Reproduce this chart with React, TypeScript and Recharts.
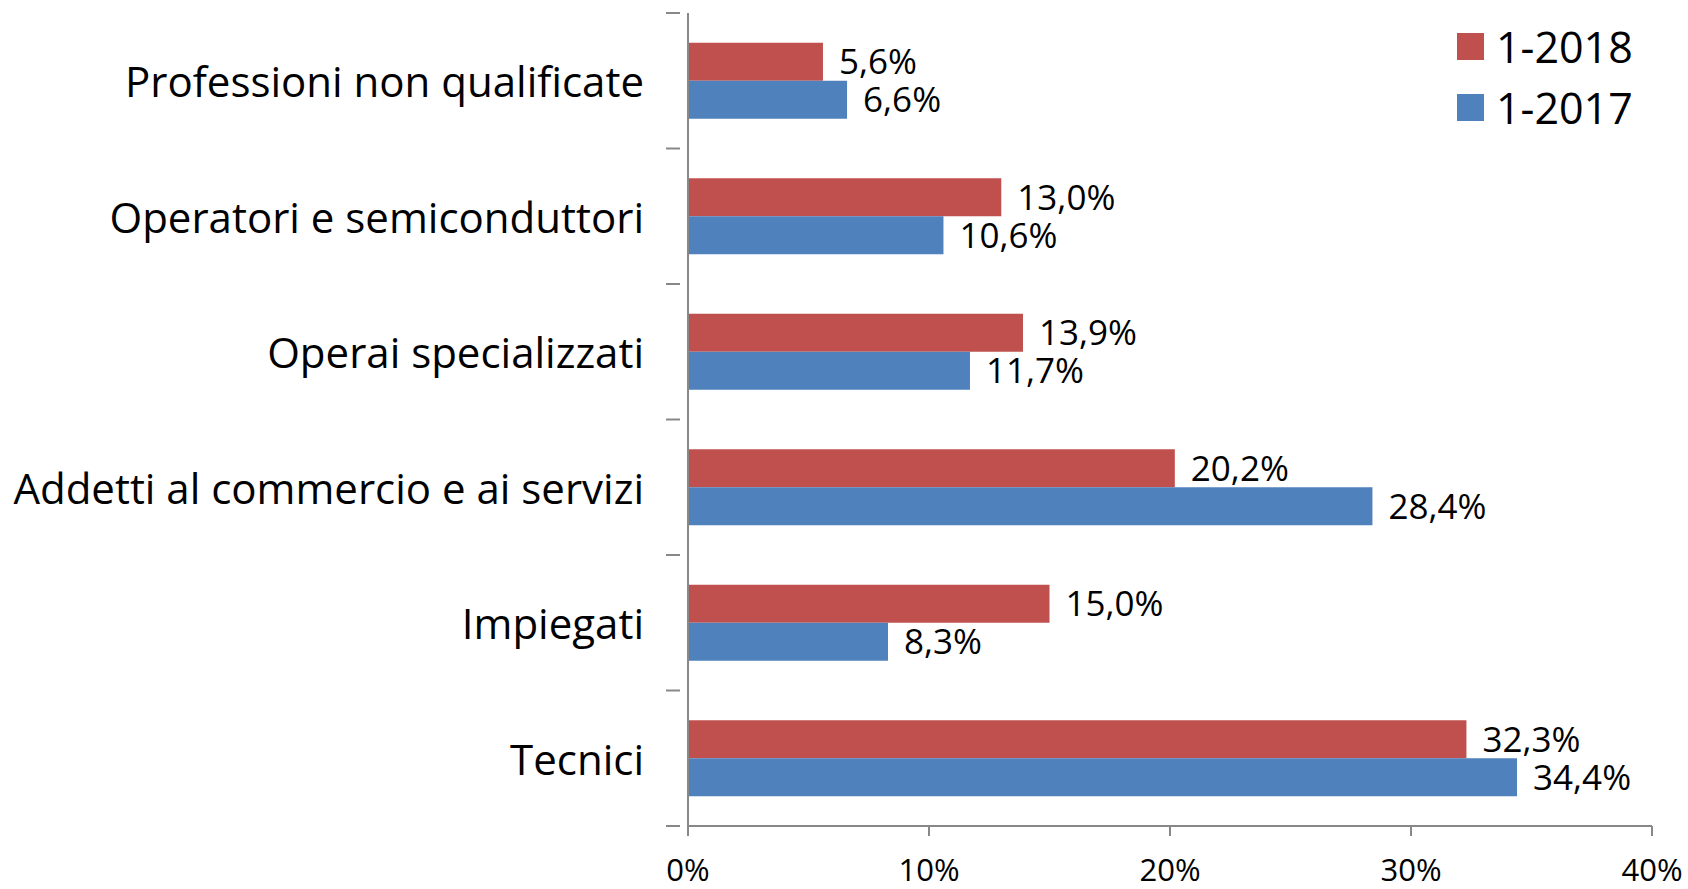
import { BarChart, Bar, XAxis, YAxis, LabelList } from 'recharts';

const categories = [
  'Professioni non qualificate',
  'Operatori e semiconduttori',
  'Operai specializzati',
  'Addetti al commercio e ai servizi',
  'Impiegati',
  'Tecnici',
];
const values2018 = [5.6, 13.0, 13.9, 20.2, 15.0, 32.3];
const values2017 = [6.6, 10.6, 11.7, 28.4, 8.3, 34.4];
const xTicks = [0, 10, 20, 30, 40];

const data = categories.map((name, i) => ({
  name,
  y2018: values2018[i],
  y2017: values2017[i],
}));

const FONT = '"Open Sans", sans-serif';
const TOP = 13;
const PLOT_H = 813;
const HALF_BAND = PLOT_H / categories.length / 2;

const fmt = (v: number) => v.toFixed(1).replace('.', ',') + '%';

function CategoryTick(props: any) {
  const { x, y, payload, index } = props;
  return (
    <g>
      <text
        x={x - 36}
        y={y}
        textAnchor="end"
        dominantBaseline="central"
        fontFamily={FONT}
        fontSize={42}
        fill="#000"
      >
        {payload.value}
      </text>
      {index === 0 && (
        <line x1={x - 14} x2={x} y1={y - HALF_BAND} y2={y - HALF_BAND} stroke="#888" strokeWidth={2} />
      )}
      <line x1={x - 14} x2={x} y1={y + HALF_BAND} y2={y + HALF_BAND} stroke="#888" strokeWidth={2} />
    </g>
  );
}

function Legend2() {
  const items = [
    { label: '1-2018', color: '#C0504D' },
    { label: '1-2017', color: '#4F81BD' },
  ];
  return (
    <div style={{ position: 'absolute', left: 1457, top: 16, fontFamily: FONT }}>
      {items.map((it) => (
        <div key={it.label} style={{ display: 'flex', alignItems: 'center', height: 61 }}>
          <div style={{ width: 27, height: 27, background: it.color, marginRight: 12 }} />
          <span style={{ fontSize: 43, color: '#000' }}>{it.label}</span>
        </div>
      ))}
    </div>
  );
}

export default function App() {
  return (
    <div style={{ position: 'absolute', left: 0, top: 0, width: 1688, height: 889, background: '#fff' }}>
      <BarChart
        width={1688}
        height={889}
        data={data}
        layout="vertical"
        margin={{ top: TOP, right: 36, bottom: 0, left: 0 }}
        barCategoryGap="22%"
        barGap={0}
      >
        <XAxis
          type="number"
          domain={[0, 40]}
          ticks={xTicks}
          tickFormatter={(v) => v + '%'}
          height={63}
          axisLine={{ stroke: '#888', strokeWidth: 2 }}
          tickLine={{ stroke: '#888', strokeWidth: 2 }}
          tickSize={10}
          tick={{ fontFamily: FONT, fontSize: 31, fill: '#000', dy: 21 }}
        />
        <YAxis
          type="category"
          dataKey="name"
          width={688}
          axisLine={{ stroke: '#888', strokeWidth: 2 }}
          tickLine={false}
          tick={<CategoryTick />}
        />
        <Bar dataKey="y2018" fill="#C0504D" isAnimationActive={false}>
          <LabelList
            dataKey="y2018"
            position="right"
            offset={16}
            formatter={(v: any) => fmt(v)}
            style={{ fontFamily: FONT, fontSize: 35, fill: '#000' }}
          />
        </Bar>
        <Bar dataKey="y2017" fill="#4F81BD" isAnimationActive={false}>
          <LabelList
            dataKey="y2017"
            position="right"
            offset={16}
            formatter={(v: any) => fmt(v)}
            style={{ fontFamily: FONT, fontSize: 35, fill: '#000' }}
          />
        </Bar>
      </BarChart>
      <Legend2 />
    </div>
  );
}
